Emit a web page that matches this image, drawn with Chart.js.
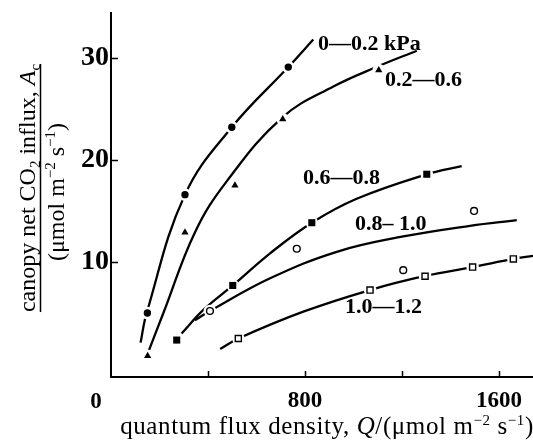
<!DOCTYPE html>
<html>
<head>
<meta charset="utf-8">
<script src="https://cdn.jsdelivr.net/npm/chart.js@4"></script>
<style>
  body { margin: 0; background: #fff; }
  canvas { display: block; }
</style>
</head>
<body>
<canvas id="chart" width="533" height="442"></canvas>
<script>
// axis ticks
const xTicks = [0, 400, 800, 1200, 1600];
const xTickLabels = ['', '', '800', '', '1600'];
const yTicks = [10, 20, 30];

// curve names (vapour pressure deficit classes)
const curveNames = ['0\u20140.2 kPa', '0.2\u20140.6', '0.6\u20140.8', '0.8\u2013 1.0', '1.0\u20141.2'];

// measured points: Q vs Ac
const q0002 = [150, 305, 498, 731];
const a0002 = [5.0, 16.6, 23.2, 29.1];
const q0206 = [151, 305, 511, 708, 1104];
const a0206 = [0.8, 12.9, 17.5, 24.0, 28.8];
const q0608 = [271, 502, 828, 1302];
const a0608 = [2.35, 7.7, 13.85, 18.6];
const q0810 = [408, 766, 1205, 1497];
const a0810 = [5.2, 11.3, 9.2, 15.0];
const q1012 = [525, 1068, 1295, 1491, 1659];
const a1012 = [2.5, 7.25, 8.6, 9.5, 10.3];

// fitted curves
const fitQ0002 = [122, 147, 305, 498, 731, 834];
const fitA0002 = [2.1, 5.0, 16.6, 23.2, 29.1, 31.8];
const fitQ0206 = [154, 216, 346, 477, 708, 917, 1104, 1261];
const fitA0206 = [1.2, 5.0, 12.9, 17.9, 24.2, 27.2, 29.2, 30.7];
const fitQ0608 = [291, 381, 502, 656, 828, 1013, 1302, 1446];
const fitA0608 = [3.0, 5.3, 7.7, 10.85, 13.85, 16.2, 18.6, 19.4];
const fitQ0810 = [346, 408, 656, 931, 1205, 1480, 1673];
const fitA0810 = [4.3, 5.2, 8.4, 11.0, 12.5, 13.55, 14.1];
const fitQ1012 = [450, 525, 793, 1068, 1295, 1491, 1659, 1740];
const fitA1012 = [1.47, 2.5, 5.13, 7.25, 8.63, 9.5, 10.3, 10.6];

const black = '#000';
const white = '#fff';
const pts = (qs, as) => qs.map((q, i) => ({ x: q, y: as[i] }));

const series = [
  { q: q0002, a: a0002, fq: fitQ0002, fa: fitA0002, style: 'circle', r: 3.7, bg: black, bw: 0 },
  { q: q0206, a: a0206, fq: fitQ0206, fa: fitA0206, style: 'triangle', r: 4.2, bg: black, bw: 0 },
  { q: q0608, a: a0608, fq: fitQ0608, fa: fitA0608, style: 'rect', r: 5, bg: black, bw: 0 },
  { q: q0810, a: a0810, fq: fitQ0810, fa: fitA0810, style: 'circle', r: 3.4, bg: white, bw: 1.4 },
  { q: q1012, a: a1012, fq: fitQ1012, fa: fitA1012, style: 'rect', r: 4.3, bg: white, bw: 1.4 }
];

const datasets = [];
series.forEach(s => {
  datasets.push({
    data: pts(s.fq, s.fa), showLine: true, borderColor: black, borderWidth: 2.3,
    pointRadius: 0, tension: 0.4, fill: false, order: 3
  });
  // white halo that breaks the line around each marker
  datasets.push({
    data: pts(s.q, s.a), showLine: false, pointStyle: 'circle', pointRadius: 6.3,
    pointBackgroundColor: white, pointBorderWidth: 0, order: 2
  });
  datasets.push({
    data: pts(s.q, s.a), showLine: false, pointStyle: s.style, pointRadius: s.r,
    pointBackgroundColor: s.bg, pointBorderColor: black, pointBorderWidth: s.bw, order: 1
  });
});

const serif = '"Liberation Serif", "Times New Roman", serif';

function drawRuns(ctx, runs, cx, baseY) {
  let w = 0;
  runs.forEach(r => { ctx.font = r.font; r.w = ctx.measureText(r.t).width; w += r.w; });
  let xp = cx - w / 2;
  runs.forEach(r => { ctx.font = r.font; ctx.fillText(r.t, xp, baseY + (r.dy || 0)); xp += r.w; });
  return w;
}

const annotate = {
  id: 'annotate',
  afterDraw(chart, args, opts) {
    const { ctx, chartArea, scales: { x, y } } = chart;
    ctx.save();
    ctx.strokeStyle = black;
    ctx.fillStyle = black;

    // inward tick marks
    ctx.lineWidth = 1.5;
    ctx.beginPath();
    xTicks.slice(1).forEach(v => {
      const px = Math.round(x.getPixelForValue(v)) + 0.5;
      ctx.moveTo(px, chartArea.bottom);
      ctx.lineTo(px, chartArea.bottom - 6);
    });
    yTicks.forEach(v => {
      const py = Math.round(y.getPixelForValue(v)) + 0.5;
      ctx.moveTo(chartArea.left, py);
      ctx.lineTo(chartArea.left + 7, py);
    });
    ctx.stroke();

    // curve labels
    ctx.textBaseline = 'alphabetic';
    ctx.textAlign = 'left';
    ctx.font = 'bold 22px ' + serif;
    opts.labels.forEach((p, i) => {
      ctx.fillText(curveNames[i], x.getPixelForValue(p[0]), y.getPixelForValue(p[1]));
    });

    // origin label
    ctx.font = 'bold 23px ' + serif;
    ctx.textAlign = 'center';
    ctx.fillText('0', chartArea.left - 15, 408);
    ctx.textAlign = 'left';

    const reg = '24px ' + serif;
    const ital = 'italic 24px ' + serif;
    const small = '15px ' + serif;

    // y title as a fraction
    ctx.save();
    ctx.translate(35, 188);
    ctx.rotate(-Math.PI / 2);
    const w1 = drawRuns(ctx, [
      { t: 'canopy net CO', font: reg },
      { t: '2', font: small, dy: 5 },
      { t: ' influx, ', font: reg },
      { t: 'A', font: ital },
      { t: 'c', font: small, dy: 5 }
    ], 0, 0);
    ctx.lineWidth = 1.5;
    ctx.beginPath();
    ctx.moveTo(-w1 / 2, 5.5);
    ctx.lineTo(w1 / 2, 5.5);
    ctx.stroke();
    ctx.restore();

    ctx.save();
    ctx.translate(64, 192);
    ctx.rotate(-Math.PI / 2);
    drawRuns(ctx, [
      { t: '(\u03bcmol m', font: reg },
      { t: '\u22122', font: small, dy: -9 },
      { t: ' s', font: reg },
      { t: '\u22121', font: small, dy: -9 },
      { t: ')', font: reg }
    ], 0, 0);
    ctx.restore();

    // x title
    const reg25 = '25px ' + serif;
    ctx.letterSpacing = '0.6px';
    drawRuns(ctx, [
      { t: 'quantum flux density, ', font: reg25 },
      { t: 'Q', font: 'italic 25px ' + serif },
      { t: '/(\u03bcmol m', font: reg25 },
      { t: '\u22122', font: small, dy: -9 },
      { t: ' s', font: reg25 },
      { t: '\u22121', font: small, dy: -9 },
      { t: ')', font: reg25 }
    ], 327, 434);
    ctx.letterSpacing = '0px';

    ctx.restore();
  }
};

new Chart(document.getElementById('chart'), {
  type: 'scatter',
  data: { datasets },
  plugins: [annotate],
  options: {
    responsive: false,
    animation: false,
    events: [],
    layout: { autoPadding: false, padding: { top: 13, right: 0, left: 0, bottom: 0 } },
    plugins: {
      legend: { display: false },
      tooltip: { enabled: false },
      annotate: {
        labels: [[854, 30.8], [1130, 27.25], [792, 17.65], [1006, 13.14], [965, 5.0]]
      }
    },
    scales: {
      x: {
        type: 'linear',
        min: 0,
        max: 1740,
        afterFit: s => { s.height = 65; s.paddingLeft = 0; s.paddingRight = 0; },
        afterBuildTicks: s => { s.ticks = xTicks.map(v => ({ value: v })); },
        grid: { display: false, drawTicks: false },
        border: { display: true, color: black, width: 2 },
        ticks: {
          autoSkip: false,
          maxRotation: 0,
          padding: 10.5,
          color: black,
          font: { family: serif, size: 23, weight: 'bold' },
          callback: (v, i) => xTickLabels[i]
        }
      },
      y: {
        type: 'linear',
        min: -1.27,
        max: 34.4,
        afterFit: s => { s.width = 111; s.paddingTop = 0; s.paddingBottom = 0; },
        afterBuildTicks: s => { s.ticks = yTicks.map(v => ({ value: v })); },
        grid: { display: false, drawTicks: false },
        border: { display: true, color: black, width: 2 },
        ticks: {
          autoSkip: false,
          padding: 2,
          color: black,
          font: { family: serif, size: 28, weight: 'bold' },
          callback: v => String(v)
        }
      }
    }
  }
});
</script>
</body>
</html>
